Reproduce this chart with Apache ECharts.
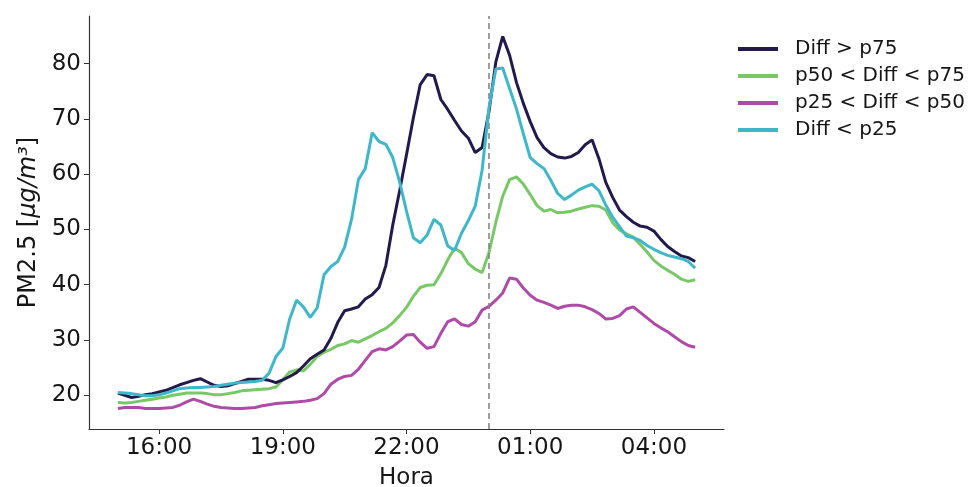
<!DOCTYPE html>
<html>
<head>
<meta charset="utf-8">
<script src="https://cdn.jsdelivr.net/npm/echarts@6/dist/echarts.min.js"></script>
<style>
html,body{margin:0;padding:0;background:#fff;}
#chart{width:975px;height:487px;}
</style>
</head>
<body>
<div id="chart"></div>
<script>
// Time stamps (HH:MM), 10-minute steps from 15:00 to 05:00 next day
const times = [
"15:00","15:10","15:20","15:30","15:40","15:50",
"16:00","16:10","16:20","16:30","16:40","16:50",
"17:00","17:10","17:20","17:30","17:40","17:50",
"18:00","18:10","18:20","18:30","18:40","18:50",
"19:00","19:10","19:20","19:30","19:40","19:50",
"20:00","20:10","20:20","20:30","20:40","20:50",
"21:00","21:10","21:20","21:30","21:40","21:50",
"22:00","22:10","22:20","22:30","22:40","22:50",
"23:00","23:10","23:20","23:30","23:40","23:50",
"00:00","00:10","00:20","00:30","00:40","00:50",
"01:00","01:10","01:20","01:30","01:40","01:50",
"02:00","02:10","02:20","02:30","02:40","02:50",
"03:00","03:10","03:20","03:30","03:40","03:50",
"04:00","04:10","04:20","04:30","04:40","04:50",
"05:00"
];

const seriesNames = ["Diff > p75", "p50 < Diff < p75", "p25 < Diff < p50", "Diff < p25"];

const diffGtP75 = [
20.4,20.0,19.6,19.8,20.1,20.3,
20.6,20.9,21.4,21.9,22.3,22.7,
23.0,22.4,21.8,21.6,21.7,22.1,
22.5,22.9,22.9,22.9,22.7,22.3,
22.8,23.4,24.1,25.3,26.6,27.4,
28.2,30.3,33.2,35.3,35.6,36.0,
37.4,38.2,39.5,43.5,50.8,57.0,
63.5,70.2,76.2,78.0,77.8,73.5,
71.7,69.7,67.8,66.5,63.9,64.8,
71.3,80.3,84.9,81.5,76.6,72.8,
69.5,66.6,64.8,63.7,63.1,62.9,
63.2,63.9,65.3,66.2,62.8,58.5,
55.8,53.5,52.3,51.3,50.6,50.4,
49.7,48.2,46.9,46.0,45.2,44.9,
44.2
];

const p50to75 = [
18.7,18.6,18.7,18.9,19.1,19.3,
19.5,19.7,20.0,20.2,20.4,20.4,
20.4,20.3,20.1,20.1,20.3,20.5,
20.8,20.9,21.0,21.1,21.2,21.5,
22.8,24.2,24.6,24.4,25.6,27.0,
27.8,28.3,29.0,29.3,29.9,29.6,
30.2,30.8,31.5,32.1,33.1,34.4,
35.9,37.9,39.5,39.9,40.0,42.0,
44.5,46.6,45.8,43.8,42.8,42.2,
45.8,51.3,56.0,59.0,59.5,58.2,
56.3,54.3,53.3,53.6,53.0,53.1,
53.3,53.7,54.0,54.3,54.2,53.5,
51.2,49.9,49.2,48.6,47.3,45.9,
44.4,43.4,42.6,41.9,41.0,40.6,
40.9
];

const p25to50 = [
17.6,17.8,17.8,17.8,17.6,17.6,
17.6,17.7,17.8,18.2,18.8,19.3,
18.9,18.4,18.0,17.8,17.7,17.6,
17.6,17.7,17.8,18.1,18.3,18.5,
18.6,18.7,18.8,18.9,19.1,19.4,
20.3,22.0,22.9,23.4,23.6,24.7,
26.3,27.9,28.4,28.2,28.8,29.8,
30.9,31.0,29.6,28.5,28.8,31.2,
33.3,33.8,32.8,32.5,33.3,35.4,
36.1,37.2,38.5,41.2,41.0,39.4,
38.1,37.2,36.8,36.3,35.7,36.1,
36.3,36.3,36.0,35.5,34.8,33.8,
33.9,34.4,35.6,36.0,35.0,34.0,
33.0,32.2,31.5,30.6,29.7,29.0,
28.7
];

const diffLtP25 = [
20.5,20.4,20.3,20.1,19.9,19.9,
20.1,20.4,20.8,21.2,21.3,21.4,
21.4,21.5,21.6,21.8,22.0,22.2,
22.3,22.4,22.5,22.7,24.0,27.0,
28.5,33.8,37.2,36.0,34.1,35.8,
41.8,43.3,44.2,46.8,51.8,59.0,
61.0,67.5,65.9,65.4,63.0,58.6,
53.3,48.5,47.6,49.0,51.8,50.8,
47.0,46.2,49.3,51.6,54.2,60.7,
72.0,79.0,79.2,75.5,71.8,67.3,
63.0,61.9,61.0,58.9,56.5,55.4,
56.2,57.1,57.7,58.2,57.0,54.4,
52.2,50.5,48.8,48.5,48.0,47.1,
46.4,45.8,45.3,45.0,44.7,44.2,
43.0
];

const xTicks = [16, 19, 22, 25, 28];        // 16:00, 19:00, 22:00, 01:00, 04:00
const yTicks = [20, 30, 40, 50, 60, 70, 80];
const midnight = 24;

function toHours(t) {
  const [h, m] = t.split(":").map(Number);
  let v = h + m / 60;
  if (v < 12) v += 24;
  return v;
}
const hours = times.map(toHours);
function pair(vals) { return hours.map((h, i) => [h, vals[i]]); }

const colors = ["#231a4b", "#78c866", "#b04aa9", "#3eb8c9"];
const FONT = "DejaVu Sans";
const TXT = "#161616";

const chart = echarts.init(document.getElementById("chart"), null, {renderer: "canvas"});

const dataSets = [diffGtP75, p50to75, p25to50, diffLtP25];
const series = dataSets.map((d, i) => ({
  name: seriesNames[i],
  type: "line",
  data: pair(d),
  showSymbol: false,
  symbol: "none",
  smooth: false,
  lineStyle: {color: colors[i], width: 3},
  itemStyle: {color: colors[i]},
  z: [4, 3, 2, 5][i],
  animation: false
}));
series[0].markLine = {
  silent: true,
  symbol: "none",
  label: {show: false},
  lineStyle: {color: "#7f7f7f", type: [6, 4], width: 1.5},
  data: [{xAxis: midnight}],
  animation: false
};

chart.setOption({
  backgroundColor: "#ffffff",
  animation: false,
  grid: {left: 89, right: 251, top: 16, bottom: 58, containLabel: false, outerBoundsMode: "none"},
  legend: {
    orient: "vertical",
    left: 733,
    top: 34,
    itemWidth: 40,
    itemHeight: 4,
    itemGap: 7,
    icon: "rect",
    data: seriesNames,
    textStyle: {fontFamily: FONT, fontSize: 20, color: TXT, padding: [0, 0, 0, 12]}
  },
  xAxis: {
    type: "value",
    min: 14.3,
    max: 29.7,
    name: "Hora",
    nameLocation: "middle",
    nameGap: 38,
    nameTextStyle: {fontFamily: FONT, fontSize: 23, color: TXT},
    axisLine: {show: true, lineStyle: {color: "#333", width: 1.2}},
    axisTick: {show: true, length: 5, inside: false, customValues: xTicks, lineStyle: {color: "#333"}},
    axisLabel: {
      customValues: xTicks,
      margin: 8,
      fontFamily: FONT, fontSize: 23, color: TXT,
      formatter: v => String(Math.round(v) % 24).padStart(2, "0") + ":00"
    },
    splitLine: {show: false}
  },
  yAxis: {
    type: "value",
    min: 13.9,
    max: 88.6,
    name: "{n|PM2.5 [}{i|μg/m³}{n|]}",
    nameLocation: "middle",
    nameRotate: 90,
    nameGap: 46,
    nameTextStyle: {
      fontFamily: FONT, fontSize: 24, color: TXT,
      rich: {
        n: {fontFamily: FONT, fontSize: 24, color: TXT},
        i: {fontFamily: FONT, fontSize: 24, fontStyle: "italic", color: TXT}
      }
    },
    axisLine: {show: true, lineStyle: {color: "#333", width: 1.2}},
    axisTick: {show: true, length: 5, inside: false, customValues: yTicks, lineStyle: {color: "#333"}},
    axisLabel: {
      customValues: yTicks,
      margin: 8,
      fontFamily: FONT, fontSize: 23, color: TXT
    },
    splitLine: {show: false}
  },
  series: series
});
</script>
</body>
</html>
